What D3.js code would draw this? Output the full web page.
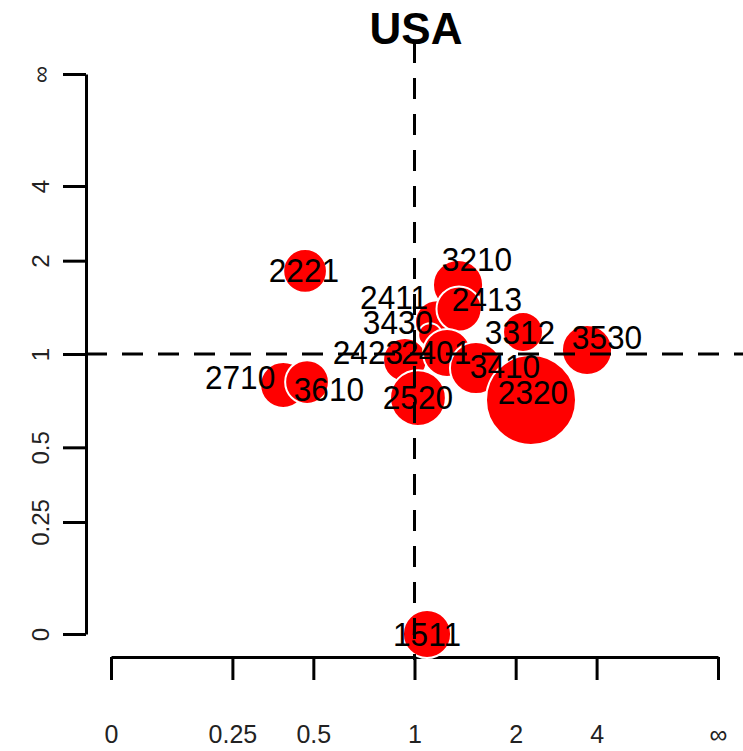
<!DOCTYPE html>
<html>
<head>
<meta charset="utf-8">
<script src="https://cdn.jsdelivr.net/npm/d3@7"></script>
<style>
  html, body { margin: 0; padding: 0; background: #fff; }
  svg { display: block; }
</style>
</head>
<body>
<svg id="chart" width="743" height="751"></svg>
<script>
// Industry codes, drawn in this order (later bubbles sit on top)
const categories = ["2710","3610","1511","2221","3210","2411","3430","2413","2423","2401","3410","2520","3312","2320","3530"];
// Ratio on the horizontal axis (0 .. ∞)
const xValues = [0.396, 0.477, 1.086, 0.470, 1.335, 1.160, 1.108, 1.344, 0.939, 1.240, 1.508, 1.023, 2.113, 2.246, 3.634];
// Ratio on the vertical axis (0 .. ∞)
const yValues = [0.801, 0.818, 0.000, 1.843, 1.654, 1.258, 1.146, 1.383, 0.958, 1.007, 0.905, 0.728, 1.171, 0.718, 1.029];
// Bubble size (area)
const sizes = [5.3, 4.8, 5.8, 4.8, 6.3, 4.8, 1.4, 5.1, 4.8, 5.8, 6.8, 7.8, 4.0, 20.3, 6.3];
// Where each code's label is anchored, in the same ratio units
const labelX = [0.270, 0.560, 1.086, 0.466, 1.519, 0.874, 0.897, 1.628, 0.734, 1.153, 1.850, 1.023, 2.066, 2.281, 4.468];
const labelY = [0.848, 0.778, 0.000, 1.857, 2.027, 1.511, 1.258, 1.489, 1.014, 1.014, 0.918, 0.734, 1.171, 0.761, 1.130];
// Axis ticks
const tickValues = [0, 0.25, 0.5, 1, 2, 4, Infinity];
const tickLabels = ["0", "0.25", "0.5", "1", "2", "4", "∞"];
const title = "USA";

// A ratio r is placed at r / (1 + r), so 0 → 0, 1 → ½, ∞ → 1
const squash = r => (r === Infinity ? 1 : r / (1 + r));

const svg = d3.select("#chart");
const font = "'Liberation Sans', Arial, Helvetica, sans-serif";

const xs = d3.scaleLinear().domain([0, 1]).range([111, 718]);
const ys = d3.scaleLinear().domain([0, 1]).range([634, 74]);
const x = r => xs(squash(r));
const y = r => ys(squash(r));
const rad = d3.scaleSqrt().domain([0, d3.max(sizes)]).range([0, 45]);

const rows = categories.map((c, i) => ({
  code: c, xv: xValues[i], yv: yValues[i], size: sizes[i], lx: labelX[i], ly: labelY[i]
}));

// Title
svg.append("text")
  .attr("x", 416).attr("y", 44)
  .attr("text-anchor", "middle")
  .attr("font-family", font)
  .attr("font-weight", "bold")
  .attr("font-size", 44)
  .text(title);

// Bottom axis
const xAxis = d3.axisBottom(xs)
  .tickValues(tickValues.map(squash))
  .tickFormat((d, i) => tickLabels[i])
  .tickSize(23).tickSizeOuter(0);
const gx = svg.append("g").attr("transform", "translate(0,657)").call(xAxis);
gx.select(".domain").attr("stroke", "#000").attr("stroke-width", 3);
gx.selectAll(".tick line").attr("stroke", "#000").attr("stroke-width", 3);
gx.selectAll(".tick text")
  .attr("y", 86).attr("dy", 0)
  .attr("font-family", font).attr("font-size", 25).attr("fill", "#222");

// Left axis, labels run along the axis
const yAxis = d3.axisLeft(ys)
  .tickValues(tickValues.map(squash))
  .tickFormat((d, i) => tickLabels[i])
  .tickSize(23).tickSizeOuter(0);
const gy = svg.append("g").attr("transform", "translate(86,0)").call(yAxis);
gy.select(".domain").attr("stroke", "#000").attr("stroke-width", 3);
gy.selectAll(".tick line").attr("stroke", "#000").attr("stroke-width", 3);
gy.selectAll(".tick text")
  .attr("x", 0).attr("y", 0).attr("dy", "0.36em")
  .attr("transform", "translate(-46,0) rotate(-90)")
  .attr("text-anchor", "middle")
  .attr("font-family", font).attr("font-size", 24).attr("fill", "#222");

// Bubbles
svg.append("g").selectAll("circle")
  .data(rows).join("circle")
  .attr("cx", d => x(d.xv))
  .attr("cy", d => y(d.yv))
  .attr("r", d => rad(d.size))
  .attr("fill", "#ff0000")
  .attr("stroke", "#fff")
  .attr("stroke-width", 2);

// Reference lines at ratio 1
const dash = "21,15";
svg.append("line")
  .attr("x1", x(1)).attr("x2", x(1))
  .attr("y1", 42).attr("y2", 660)
  .attr("stroke", "#000").attr("stroke-width", 3).attr("stroke-dasharray", dash);
svg.append("line")
  .attr("x1", 86).attr("x2", 743)
  .attr("y1", y(1)).attr("y2", y(1))
  .attr("stroke", "#000").attr("stroke-width", 3).attr("stroke-dasharray", dash);

// Code labels
svg.append("g").selectAll("text")
  .data(rows).join("text")
  .attr("transform", d => `translate(${x(d.lx)},${y(d.ly)}) scale(0.93,1)`)
  .attr("text-anchor", "middle")
  .attr("dy", "0.36em")
  .attr("font-family", font)
  .attr("font-size", 34)
  .attr("fill", "#000")
  .text(d => d.code);
</script>
</body>
</html>
